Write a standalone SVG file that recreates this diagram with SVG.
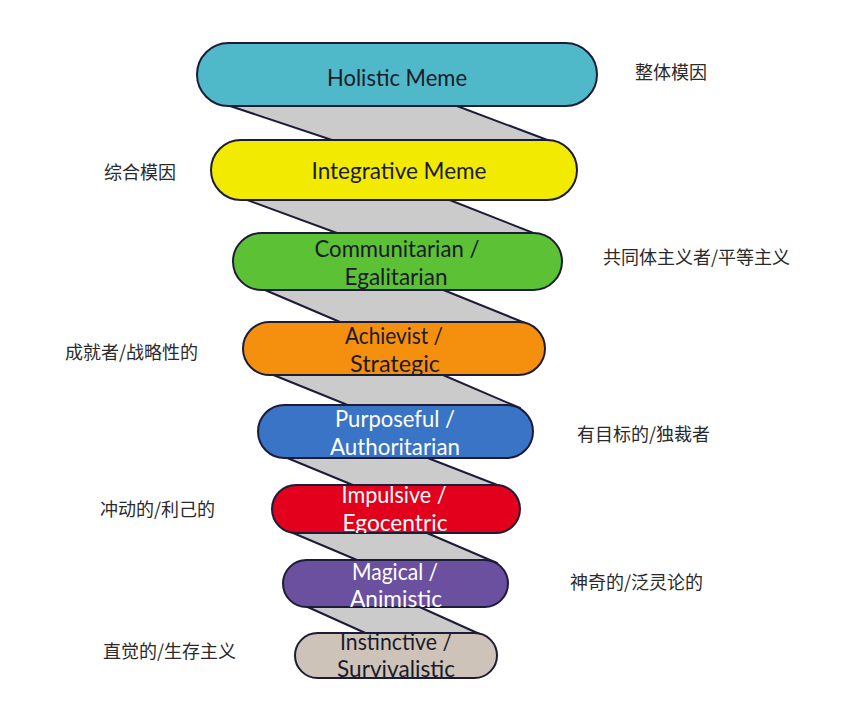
<svg xmlns="http://www.w3.org/2000/svg" width="844" height="715" viewBox="0 0 844 715">
<style>
.band{fill:#cbcbcb;stroke:none}
.edge{stroke:#1c1c38;stroke-width:2;fill:none;stroke-linecap:round}
.pill{stroke:#1c1c38;stroke-width:2}
.lbl{font-family:Lato,"Open Sans","Liberation Sans",sans-serif;font-size:23px;text-anchor:middle}
.dark{fill:#1a1a2a}
.light{fill:#ffffff}
.zh{font-family:"Noto Sans CJK SC","Noto Sans",sans-serif;font-size:18px;fill:#2a2a2a}
</style>
<defs>
<clipPath id="c1"><rect x="197" y="43" width="400" height="63" rx="31.5"/></clipPath>
<clipPath id="c2"><rect x="211" y="140" width="366" height="60" rx="30"/></clipPath>
<clipPath id="c3"><rect x="233" y="233" width="329" height="57" rx="28.5"/></clipPath>
<clipPath id="c4"><rect x="243" y="322" width="302" height="53" rx="26.5"/></clipPath>
<clipPath id="c5"><rect x="258" y="405" width="275" height="53" rx="26.5"/></clipPath>
<clipPath id="c6"><rect x="272" y="485" width="248" height="48" rx="24"/></clipPath>
<clipPath id="c7"><rect x="283" y="560" width="225" height="47" rx="23.5"/></clipPath>
<clipPath id="c8"><rect x="295" y="633" width="202" height="45" rx="22.5"/></clipPath>
</defs>
<rect x="0" y="0" width="844" height="715" fill="#ffffff"/>
<g id="connectors">
<polygon class="band" points="221,103 449,103 558,144 344,144"/>
<line class="edge" x1="221" y1="103" x2="344" y2="144"/>
<line class="edge" x1="449" y1="103" x2="558" y2="144"/>
<polygon class="band" points="239,197 442,197 541,236 345,236"/>
<line class="edge" x1="239" y1="197" x2="345" y2="236"/>
<line class="edge" x1="442" y1="197" x2="541" y2="236"/>
<polygon class="band" points="258,287 436,287 530,325 347,325"/>
<line class="edge" x1="258" y1="287" x2="347" y2="325"/>
<line class="edge" x1="436" y1="287" x2="530" y2="325"/>
<polygon class="band" points="266,372 436,372 520,408 355,408"/>
<line class="edge" x1="266" y1="372" x2="355" y2="408"/>
<line class="edge" x1="436" y1="372" x2="520" y2="408"/>
<polygon class="band" points="280,455 420,455 505,488 360,488"/>
<line class="edge" x1="280" y1="455" x2="360" y2="488"/>
<line class="edge" x1="420" y1="455" x2="505" y2="488"/>
<polygon class="band" points="286,530 420,530 497,563 364,563"/>
<line class="edge" x1="286" y1="530" x2="364" y2="563"/>
<line class="edge" x1="420" y1="530" x2="497" y2="563"/>
<polygon class="band" points="301,604 413,604 484,636 372,636"/>
<line class="edge" x1="301" y1="604" x2="372" y2="636"/>
<line class="edge" x1="413" y1="604" x2="484" y2="636"/>
</g>
<g id="holistic">
<rect class="pill" x="197" y="43" width="400" height="63" rx="31.5" fill="#4fb9c9"/>
<g clip-path="url(#c1)"><text class="lbl dark" x="397" y="86" textLength="140" lengthAdjust="spacingAndGlyphs">Holistic Meme</text></g>
</g>
<g id="integrative">
<rect class="pill" x="211" y="140" width="366" height="60" rx="30" fill="#f2ea00"/>
<g clip-path="url(#c2)"><text class="lbl dark" x="399" y="179" textLength="175" lengthAdjust="spacingAndGlyphs">Integrative Meme</text></g>
</g>
<g id="communitarian">
<rect class="pill" x="233" y="233" width="329" height="57" rx="28.5" fill="#5cc134"/>
<g clip-path="url(#c3)"><text class="lbl dark" x="397" y="257" textLength="165" lengthAdjust="spacingAndGlyphs">Communitarian /</text>
<text class="lbl dark" x="396" y="285" textLength="103" lengthAdjust="spacingAndGlyphs">Egalitarian</text></g>
</g>
<g id="achievist">
<rect class="pill" x="243" y="322" width="302" height="53" rx="26.5" fill="#f5900e"/>
<g clip-path="url(#c4)"><text class="lbl dark" x="394" y="344" textLength="98" lengthAdjust="spacingAndGlyphs">Achievist /</text>
<text class="lbl dark" x="395" y="372" textLength="90" lengthAdjust="spacingAndGlyphs">Strategic</text></g>
</g>
<g id="purposeful">
<rect class="pill" x="258" y="405" width="275" height="53" rx="26.5" fill="#3a74c6"/>
<g clip-path="url(#c5)"><text class="lbl light" x="395" y="427" textLength="120" lengthAdjust="spacingAndGlyphs">Purposeful /</text>
<text class="lbl light" x="395" y="455" textLength="130" lengthAdjust="spacingAndGlyphs">Authoritarian</text></g>
</g>
<g id="impulsive">
<rect class="pill" x="272" y="485" width="248" height="48" rx="24" fill="#e2001c"/>
<g clip-path="url(#c6)"><text class="lbl light" x="394" y="503" textLength="105" lengthAdjust="spacingAndGlyphs">Impulsive /</text>
<text class="lbl light" x="395" y="531" textLength="105" lengthAdjust="spacingAndGlyphs">Egocentric</text></g>
</g>
<g id="magical">
<rect class="pill" x="283" y="560" width="225" height="47" rx="23.5" fill="#6a509f"/>
<g clip-path="url(#c7)"><text class="lbl light" x="395" y="580" textLength="86" lengthAdjust="spacingAndGlyphs">Magical /</text>
<text class="lbl light" x="396" y="607" textLength="92" lengthAdjust="spacingAndGlyphs">Animistic</text></g>
</g>
<g id="instinctive">
<rect class="pill" x="295" y="633" width="202" height="45" rx="22.5" fill="#cec3b9"/>
<g clip-path="url(#c8)"><text class="lbl dark" x="396" y="650" textLength="112" lengthAdjust="spacingAndGlyphs">Instinctive /</text>
<text class="lbl dark" x="396" y="677" textLength="118" lengthAdjust="spacingAndGlyphs">Survivalistic</text></g>
</g>
<g id="labels">
<text class="zh" x="635" y="79">整体模因</text>
<text class="zh" x="104" y="179">综合模因</text>
<text class="zh" x="603" y="264">共同体主义者/平等主义</text>
<text class="zh" x="65" y="359">成就者/战略性的</text>
<text class="zh" x="577" y="441">有目标的/独裁者</text>
<text class="zh" x="100" y="516">冲动的/利己的</text>
<text class="zh" x="570" y="589">神奇的/泛灵论的</text>
<text class="zh" x="103" y="658">直觉的/生存主义</text>
</g>
</svg>
